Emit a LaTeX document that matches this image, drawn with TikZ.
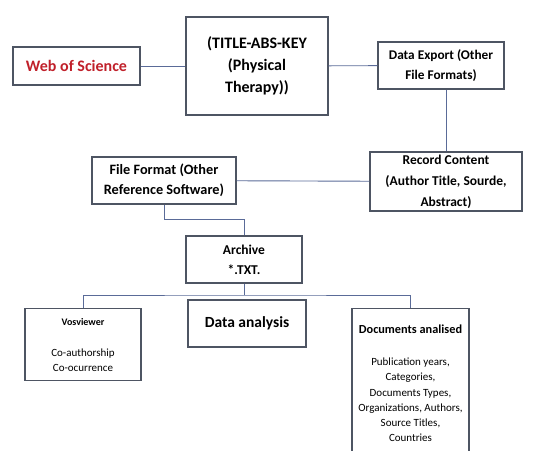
\documentclass[tikz,border=0pt]{standalone}
\usepackage{fontspec}
\setmainfont{Carlito}
\usepackage{tikz}
\definecolor{boxline}{HTML}{4E5563}
\definecolor{linkline}{HTML}{5A6B98}
\definecolor{wosred}{HTML}{C0202A}

\begin{document}
\begin{tikzpicture}[x=1pt, y=-1pt,
  every node/.style={font=\bfseries\fontsize{16}{22}\selectfont, align=center},
  box/.style={draw=boxline, line width=1.1pt, inner sep=0pt},
  link/.style={draw=linkline, line width=0.9pt}]
\useasboundingbox (0,0) rectangle (546,450);
% top row
\node[box, minimum width=127, minimum height=38, text=wosred] (wos) at (76.5,66) {Web of Science};
\node[box, minimum width=142, minimum height=98] (query) at (257,66) {(TITLE-ABS-KEY\\(Physical\\Therapy))};
\node[box, minimum width=126, minimum height=47, font=\bfseries\fontsize{13.3}{20}\selectfont] (export) at (441,65.5) {Data Export (Other\\File Formats)};
% middle
\node[box, minimum width=152, minimum height=59, font=\bfseries\fontsize{13.5}{21}\selectfont] (record) at (446,181.5) {Record Content\\(Author Title, Sourde,\\Abstract)};
\node[box, minimum width=144, minimum height=47, font=\bfseries\fontsize{14.3}{19.5}\selectfont] (format) at (164,180.5) {File Format (Other\\Reference Software)};
\node[box, minimum width=116, minimum height=47, font=\bfseries\fontsize{13.5}{20}\selectfont] (archive) at (244,259.5) {Archive\\*.TXT.};
% bottom row
\node[box, minimum width=116, minimum height=72, anchor=north] (vos) at (83,308) {};
\node[font=\bfseries\fontsize{10}{12}\selectfont] (vostitle) at (83,322) {Vosviewer};
\node[font=\fontsize{11}{14.5}\selectfont] (voslist) at (83,360) {Co-authorship\\Co-ocurrence};
\node[box, minimum width=118, minimum height=47, font=\bfseries\fontsize{15.5}{18}\selectfont] (analysis) at (247,323.5) {Data analysis};
\node[box, minimum width=117, minimum height=146, anchor=north] (docs) at (410.5,308) {};
\node[font=\bfseries\fontsize{12.3}{14}\selectfont] (docstitle) at (410.5,329) {Documents analised};
\node[font=\fontsize{11}{15.2}\selectfont] (doclist) at (410.5,400) {Publication years,\\Categories,\\Documents Types,\\Organizations, Authors,\\Source Titles,\\Countries};
% connectors
\coordinate (bend) at (164,219.5);
\coordinate (bus) at (244,295);
\draw[link] (wos) -- (query);
\draw[link] (query) -- (export);
\draw[link] (record.north |- export.south) -- (record.north);
\draw[link] (record) -- (format);
\draw[link] (format.south) -- (bend) -| (archive.north);
\draw[link] (archive.south) -- (bus);
\draw[link] (vos.north) |- (bus) -| (docs.north);
\end{tikzpicture}
\end{document}
